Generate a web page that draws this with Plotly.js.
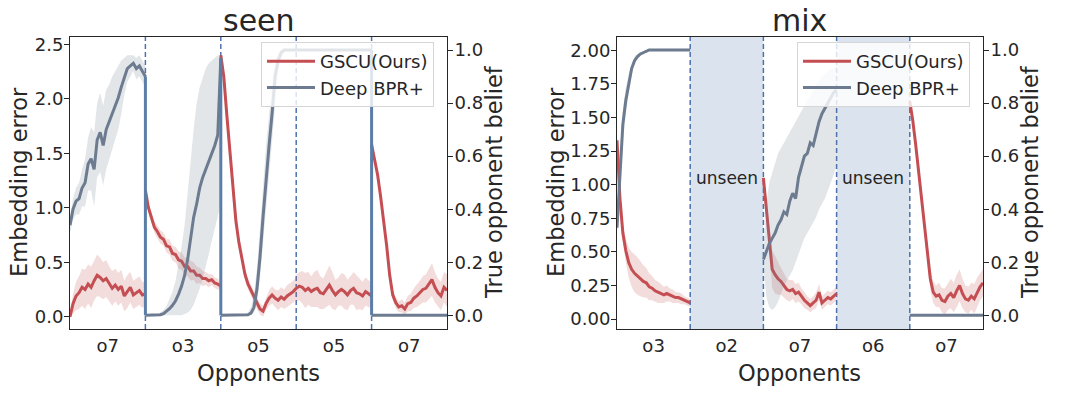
<!DOCTYPE html>
<html>
<head>
<meta charset="utf-8">
<script src="https://cdn.plot.ly/plotly-3.0.1.min.js"></script>
<style>html,body{margin:0;padding:0;background:#fff;}#chart{width:1078px;height:394px;}</style>
</head>
<body>
<div id="chart"></div>
<script>
// ---------------- data ----------------
const STEPS = 25; // evaluation points per opponent block (26 samples incl. both ends)

const seenOpponents = ["o7", "o3", "o5", "o5", "o7"];
const mixOpponents  = ["o3", "o2", "o7", "o6", "o7"];
const mixUnseen     = [false, true, false, true, false];

const seriesNames = ["GSCU(Ours)", "Deep BPR+"];
const panelTitles = ["seen", "mix"];
const axisTitles  = {x: "Opponents", yLeft: "Embedding error", yRight: "True opponent belief"};

// seen: GSCU embedding error (mean, sd) per opponent block
const seenGscuMean = [
  [0.00,0.12,0.19,0.22,0.27,0.25,0.30,0.27,0.33,0.38,0.36,0.33,0.35,0.30,0.26,0.29,0.25,0.28,0.19,0.23,0.27,0.20,0.22,0.24,0.20,0.21],
  [1.16,1.00,0.91,0.82,0.78,0.73,0.71,0.65,0.64,0.58,0.57,0.52,0.51,0.46,0.46,0.42,0.42,0.38,0.38,0.35,0.35,0.33,0.34,0.31,0.30,0.28],
  [2.40,2.20,1.85,1.50,1.15,0.88,0.68,0.52,0.39,0.30,0.24,0.19,0.12,0.07,0.05,0.12,0.17,0.20,0.17,0.15,0.18,0.16,0.19,0.21,0.23,0.26],
  [0.26,0.28,0.27,0.24,0.26,0.23,0.25,0.26,0.22,0.21,0.25,0.29,0.24,0.20,0.23,0.25,0.23,0.20,0.24,0.26,0.22,0.21,0.19,0.23,0.21,0.19],
  [1.58,1.45,1.30,1.10,0.90,0.65,0.38,0.20,0.13,0.09,0.10,0.07,0.12,0.13,0.17,0.19,0.22,0.25,0.26,0.30,0.34,0.27,0.22,0.19,0.27,0.24]
];
const seenGscuSd = [
  [0.02,0.09,0.13,0.15,0.17,0.18,0.18,0.19,0.18,0.19,0.18,0.17,0.17,0.16,0.16,0.15,0.15,0.15,0.14,0.15,0.14,0.13,0.13,0.13,0.12,0.10],
  [0.02,0.04,0.05,0.05,0.06,0.06,0.06,0.06,0.07,0.07,0.07,0.08,0.08,0.08,0.09,0.09,0.08,0.08,0.07,0.07,0.06,0.06,0.05,0.05,0.05,0.04],
  [0.02,0.03,0.04,0.05,0.05,0.05,0.05,0.05,0.05,0.05,0.05,0.05,0.05,0.05,0.05,0.06,0.07,0.08,0.08,0.09,0.09,0.09,0.10,0.10,0.10,0.10],
  [0.12,0.13,0.15,0.16,0.15,0.14,0.16,0.17,0.15,0.14,0.16,0.18,0.17,0.14,0.13,0.15,0.16,0.14,0.13,0.15,0.16,0.14,0.13,0.13,0.12,0.12],
  [0.02,0.03,0.04,0.05,0.05,0.05,0.05,0.05,0.05,0.05,0.06,0.06,0.07,0.08,0.09,0.10,0.11,0.12,0.13,0.14,0.15,0.14,0.13,0.13,0.14,0.15]
];

// seen: Deep BPR+ true-opponent belief (mean, low, high) per opponent block
const seenBprMean = [
  [0.34,0.40,0.43,0.44,0.48,0.50,0.57,0.59,0.55,0.66,0.69,0.64,0.70,0.73,0.76,0.79,0.82,0.86,0.90,0.93,0.94,0.95,0.93,0.94,0.92,0.90],
  [0.00,0.00,0.00,0.00,0.00,0.002,0.006,0.015,0.025,0.038,0.055,0.08,0.11,0.15,0.21,0.29,0.37,0.42,0.48,0.52,0.55,0.58,0.61,0.64,0.68,0.97],
  [0.00,0.00,0.00,0.00,0.00,0.00,0.00,0.00,0.00,0.002,0.008,0.03,0.10,0.22,0.37,0.52,0.64,0.76,0.90,0.96,0.99,1.00,1.00,1.00,1.00,1.00],
  [1.00,1.00,1.00,1.00,1.00,1.00,1.00,1.00,1.00,1.00,1.00,1.00,1.00,1.00,1.00,1.00,1.00,1.00,1.00,1.00,1.00,1.00,1.00,1.00,1.00,1.00],
  [0.00,0.00,0.00,0.00,0.00,0.00,0.00,0.00,0.00,0.00,0.00,0.00,0.00,0.00,0.00,0.00,0.00,0.00,0.00,0.00,0.00,0.00,0.00,0.00,0.00,0.00]
];
const seenBprLow = [
  [0.31,0.36,0.38,0.38,0.41,0.41,0.47,0.47,0.41,0.52,0.54,0.49,0.55,0.59,0.62,0.66,0.70,0.76,0.83,0.88,0.90,0.92,0.89,0.90,0.88,0.86],
  [0.00,0.00,0.00,0.00,0.00,0.00,0.00,0.00,0.00,0.00,0.00,0.00,0.00,0.005,0.01,0.02,0.04,0.07,0.10,0.14,0.18,0.23,0.28,0.33,0.38,0.42],
  [0.00,0.00,0.00,0.00,0.00,0.00,0.00,0.00,0.00,0.00,0.002,0.01,0.05,0.14,0.27,0.40,0.52,0.64,0.80,0.92,0.97,0.99,1.00,1.00,1.00,1.00],
  [1.00,1.00,1.00,1.00,1.00,1.00,1.00,1.00,1.00,1.00,1.00,1.00,1.00,1.00,1.00,1.00,1.00,1.00,1.00,1.00,1.00,1.00,1.00,1.00,1.00,1.00],
  [0.00,0.00,0.00,0.00,0.00,0.00,0.00,0.00,0.00,0.00,0.00,0.00,0.00,0.00,0.00,0.00,0.00,0.00,0.00,0.00,0.00,0.00,0.00,0.00,0.00,0.00]
];
const seenBprHigh = [
  [0.37,0.44,0.48,0.50,0.55,0.59,0.67,0.71,0.69,0.80,0.84,0.79,0.85,0.87,0.90,0.92,0.94,0.96,0.97,0.98,0.98,0.98,0.97,0.98,0.96,0.94],
  [0.00,0.00,0.00,0.003,0.006,0.012,0.02,0.035,0.06,0.09,0.13,0.19,0.26,0.34,0.45,0.58,0.70,0.80,0.86,0.90,0.93,0.95,0.96,0.97,0.98,0.98],
  [0.00,0.00,0.00,0.00,0.00,0.00,0.00,0.002,0.005,0.01,0.03,0.08,0.18,0.32,0.48,0.64,0.76,0.87,0.96,0.99,1.00,1.00,1.00,1.00,1.00,1.00],
  [1.00,1.00,1.00,1.00,1.00,1.00,1.00,1.00,1.00,1.00,1.00,1.00,1.00,1.00,1.00,1.00,1.00,1.00,1.00,1.00,1.00,1.00,1.00,1.00,1.00,1.00],
  [0.00,0.00,0.00,0.00,0.00,0.00,0.00,0.00,0.00,0.00,0.00,0.00,0.00,0.00,0.00,0.00,0.00,0.00,0.00,0.00,0.00,0.00,0.00,0.00,0.00,0.00]
];

// mix: GSCU embedding error (null = unseen block, not plotted)
const mixGscuMean = [
  [1.33,0.90,0.64,0.51,0.42,0.37,0.34,0.32,0.30,0.28,0.27,0.24,0.23,0.21,0.20,0.19,0.18,0.19,0.18,0.17,0.16,0.16,0.15,0.14,0.13,0.12],
  null,
  [1.05,0.84,0.60,0.37,0.33,0.30,0.28,0.25,0.22,0.21,0.22,0.19,0.20,0.17,0.14,0.12,0.10,0.12,0.14,0.20,0.12,0.14,0.16,0.15,0.17,0.19],
  null,
  [1.62,1.48,1.30,1.10,0.90,0.66,0.46,0.30,0.20,0.17,0.18,0.14,0.13,0.17,0.19,0.16,0.21,0.25,0.19,0.15,0.14,0.17,0.15,0.20,0.24,0.27]
];
const mixGscuSd = [
  [0.02,0.04,0.06,0.09,0.11,0.13,0.14,0.14,0.13,0.12,0.11,0.10,0.09,0.08,0.08,0.07,0.06,0.06,0.05,0.05,0.04,0.04,0.04,0.03,0.03,0.03],
  null,
  [0.02,0.05,0.10,0.14,0.14,0.12,0.10,0.09,0.08,0.08,0.07,0.07,0.07,0.06,0.06,0.05,0.05,0.05,0.06,0.06,0.05,0.05,0.05,0.05,0.05,0.05],
  null,
  [0.02,0.03,0.04,0.05,0.06,0.07,0.08,0.08,0.08,0.08,0.09,0.09,0.10,0.10,0.11,0.11,0.12,0.12,0.11,0.10,0.10,0.10,0.11,0.11,0.10,0.10]
];

// mix: Deep BPR+ true-opponent belief
const mixBprMean = [
  [0.33,0.55,0.72,0.81,0.87,0.93,0.96,0.975,0.985,0.99,0.995,1.00,1.00,1.00,1.00,1.00,1.00,1.00,1.00,1.00,1.00,1.00,1.00,1.00,1.00,1.00],
  null,
  [0.21,0.24,0.27,0.29,0.31,0.34,0.36,0.39,0.38,0.43,0.46,0.44,0.52,0.56,0.60,0.61,0.65,0.64,0.69,0.73,0.76,0.78,0.80,0.82,0.84,0.85],
  null,
  [0.00,0.00,0.00,0.00,0.00,0.00,0.00,0.00,0.00,0.00,0.00,0.00,0.00,0.00,0.00,0.00,0.00,0.00,0.00,0.00,0.00,0.00,0.00,0.00,0.00,0.00]
];
const mixBprLow = [
  [0.31,0.49,0.66,0.76,0.84,0.91,0.95,0.97,0.98,0.985,0.99,0.995,1.00,1.00,1.00,1.00,1.00,1.00,1.00,1.00,1.00,1.00,1.00,1.00,1.00,1.00],
  null,
  [0.19,0.07,0.03,0.02,0.03,0.05,0.08,0.11,0.13,0.15,0.17,0.20,0.23,0.26,0.29,0.31,0.33,0.35,0.37,0.40,0.42,0.44,0.47,0.50,0.53,0.56],
  null,
  [0.00,0.00,0.00,0.00,0.00,0.00,0.00,0.00,0.00,0.00,0.00,0.00,0.00,0.00,0.00,0.00,0.00,0.00,0.00,0.00,0.00,0.00,0.00,0.00,0.00,0.00]
];
const mixBprHigh = [
  [0.35,0.60,0.77,0.86,0.91,0.95,0.975,0.985,0.99,0.995,1.00,1.00,1.00,1.00,1.00,1.00,1.00,1.00,1.00,1.00,1.00,1.00,1.00,1.00,1.00,1.00],
  null,
  [0.23,0.42,0.50,0.54,0.58,0.61,0.63,0.65,0.67,0.69,0.71,0.73,0.75,0.77,0.79,0.81,0.83,0.85,0.87,0.88,0.90,0.91,0.92,0.93,0.93,0.94],
  null,
  [0.00,0.00,0.00,0.00,0.00,0.00,0.00,0.00,0.00,0.00,0.00,0.00,0.00,0.00,0.00,0.00,0.00,0.00,0.00,0.00,0.00,0.00,0.00,0.00,0.00,0.00]
];

// ---------------- style ----------------
const FONT = "DejaVu Sans, Liberation Sans, sans-serif";
const TXT = "#262626";
const RED = "#c44e52", RED_FILL = "rgba(196,78,82,0.2)";
const GREY = "#6c7b8f", GREY_FILL = "rgba(112,128,144,0.2)";
const JOIN = "#5a7ea8";
const BLUE = "#4c72b0", BLUE_FILL = "rgba(76,114,176,0.2)";

function blockX(k) { return Array.from({length: STEPS + 1}, (_, i) => k + i / STEPS); }

const traces = [];
function addPanel(p) {
  p.gMean.forEach((m, k) => {
    if (!m) return;
    const x = blockX(k), sd = p.gSd[k];
    traces.push({x, y: m.map((v, i) => v - sd[i]), xaxis: p.xa, yaxis: p.yl, mode: "lines",
      line: {width: 0, color: RED_FILL}, hoverinfo: "skip", showlegend: false});
    traces.push({x, y: m.map((v, i) => v + sd[i]), xaxis: p.xa, yaxis: p.yl, mode: "lines", fill: "tonexty",
      fillcolor: RED_FILL, line: {width: 0, color: RED_FILL}, hoverinfo: "skip", showlegend: false});
  });
  let first = true;
  p.gMean.forEach((m, k) => {
    if (!m) return;
    traces.push({x: blockX(k), y: m, xaxis: p.xa, yaxis: p.yl, mode: "lines", name: seriesNames[0],
      legend: p.legend, legendgroup: p.legend + "g", showlegend: first, line: {color: RED, width: 3}});
    first = false;
  });
  p.bMean.forEach((m, k) => {
    if (!m) return;
    const x = blockX(k);
    traces.push({x, y: p.bLow[k], xaxis: p.xa, yaxis: p.yr, mode: "lines",
      line: {width: 0, color: GREY_FILL}, hoverinfo: "skip", showlegend: false});
    traces.push({x, y: p.bHigh[k], xaxis: p.xa, yaxis: p.yr, mode: "lines", fill: "tonexty",
      fillcolor: GREY_FILL, line: {width: 0, color: GREY_FILL}, hoverinfo: "skip", showlegend: false});
  });
  first = true;
  p.bMean.forEach((m, k) => {
    if (!m) return;
    traces.push({x: blockX(k), y: m, xaxis: p.xa, yaxis: p.yr, mode: "lines", name: seriesNames[1],
      legend: p.legend, legendgroup: p.legend + "b", showlegend: first, line: {color: GREY, width: 3}});
    first = false;
  });
  const jx = [], jy = [];
  for (let k = 1; k < p.bMean.length; k++) {
    const a = p.bMean[k - 1], b = p.bMean[k];
    if (a && b && a[a.length - 1] !== b[0]) {
      jx.push(k, k, null);
      jy.push(a[a.length - 1], b[0], null);
    }
  }
  if (jx.length) traces.push({x: jx, y: jy, xaxis: p.xa, yaxis: p.yr, mode: "lines",
    line: {color: JOIN, width: 3}, hoverinfo: "skip", showlegend: false});
}

addPanel({xa: "x", yl: "y", yr: "y2", legend: "legend",
  gMean: seenGscuMean, gSd: seenGscuSd, bMean: seenBprMean, bLow: seenBprLow, bHigh: seenBprHigh});
addPanel({xa: "x2", yl: "y3", yr: "y4", legend: "legend2",
  gMean: mixGscuMean, gSd: mixGscuSd, bMean: mixBprMean, bLow: mixBprLow, bHigh: mixBprHigh});

// ---------------- layout ----------------
const W = 1078, H = 394;
const px = v => v / W, py = v => 1 - v / H;

const shapes = [], annotations = [];
mixUnseen.forEach((u, k) => {
  if (u) {
    shapes.push({type: "rect", xref: "x2", yref: "y3 domain", x0: k, x1: k + 1, y0: 0, y1: 1,
      fillcolor: BLUE_FILL, line: {width: 0}, layer: "below"});
    annotations.push({xref: "x2", yref: "y3", x: k + 0.5, y: 1.05, text: "unseen", showarrow: false,
      font: {family: FONT, size: 17, color: TXT}});
  }
});
[["x", "y"], ["x2", "y3"]].forEach(([xa, ya]) => {
  for (let k = 1; k < 5; k++) {
    shapes.push({type: "line", xref: xa, yref: ya + " domain", x0: k, x1: k, y0: 0, y1: 1,
      line: {color: BLUE, width: 1.5, dash: "5px,3px"}, layer: "below"});
  }
});

const titleFont = {family: FONT, size: 22.5, color: TXT};
const panels = [
  {x0: 70, x1: 447, yl: 19, yr: 494},
  {x0: 617, x1: 983, yl: 556, yr: 1030}
];
panels.forEach((p, i) => {
  const cx = px((p.x0 + p.x1) / 2);
  annotations.push({xref: "paper", yref: "paper", x: cx, y: py(21), text: panelTitles[i], showarrow: false,
    font: {family: FONT, size: 30, color: TXT}, xanchor: "center", yanchor: "middle"});
  annotations.push({xref: "paper", yref: "paper", x: cx, y: py(373), text: axisTitles.x, showarrow: false,
    font: titleFont, xanchor: "center", yanchor: "middle"});
  annotations.push({xref: "paper", yref: "paper", x: px(p.yl), y: py(182), text: axisTitles.yLeft, showarrow: false,
    font: titleFont, textangle: -90, xanchor: "center", yanchor: "middle"});
  annotations.push({xref: "paper", yref: "paper", x: px(p.yr), y: py(182), text: axisTitles.yRight, showarrow: false,
    font: titleFont, textangle: -90, xanchor: "center", yanchor: "middle"});
});

const tickFont = {family: FONT, size: 18, color: TXT};
const centers = [0.5, 1.5, 2.5, 3.5, 4.5];

function xAxis(domain, labels) {
  return {domain, range: [0, 5], tickvals: centers, ticktext: labels, ticks: "", showgrid: false, zeroline: false,
    showline: true, mirror: true, linecolor: TXT, linewidth: 1, tickfont: tickFont};
}
function yLeft(anchor, range, dtick, fmt) {
  return {domain: [py(329), py(37)], anchor, range, dtick, tick0: 0, tickformat: fmt, ticks: "outside", ticklen: 5,
    tickcolor: TXT, showgrid: false, zeroline: false, showline: true, linecolor: TXT, linewidth: 1,
    tickfont: tickFont, ticklabelstandoff: -3};
}
function yRight(anchor, overlay) {
  return {domain: [py(329), py(37)], anchor, overlaying: overlay, side: "right", range: [-0.0516, 1.049], dtick: 0.2,
    tick0: 0, tickformat: ".1f", ticks: "outside", ticklen: 5, tickcolor: TXT, showgrid: false, zeroline: false,
    showline: true, linecolor: TXT, linewidth: 1, tickfont: tickFont, ticklabelstandoff: -2};
}
function legendAt(x) {
  return {x, y: py(42), xanchor: "left", yanchor: "top", bgcolor: "rgba(255,255,255,0.8)", bordercolor: "#d6d6d6",
    borderwidth: 1, font: {family: FONT, size: 18, color: TXT}, tracegroupgap: 0, itemwidth: 48};
}

const layout = {
  width: W, height: H, margin: {l: 0, r: 0, t: 0, b: 0}, paper_bgcolor: "#fff", plot_bgcolor: "rgba(0,0,0,0)",
  font: {family: FONT, color: TXT},
  xaxis: xAxis([px(70), px(447)], seenOpponents),
  yaxis: yLeft("x", [-0.113, 2.567], 0.5, ".1f"),
  yaxis2: yRight("x", "y"),
  xaxis2: xAxis([px(617), px(983)], mixOpponents),
  yaxis3: yLeft("x2", [-0.074, 2.099], 0.25, ".2f"),
  yaxis4: yRight("x2", "y3"),
  legend: legendAt(px(261)),
  legend2: legendAt(px(797)),
  shapes, annotations, showlegend: true
};

Plotly.newPlot("chart", traces, layout, {displayModeBar: false, staticPlot: true});
</script>
</body>
</html>
